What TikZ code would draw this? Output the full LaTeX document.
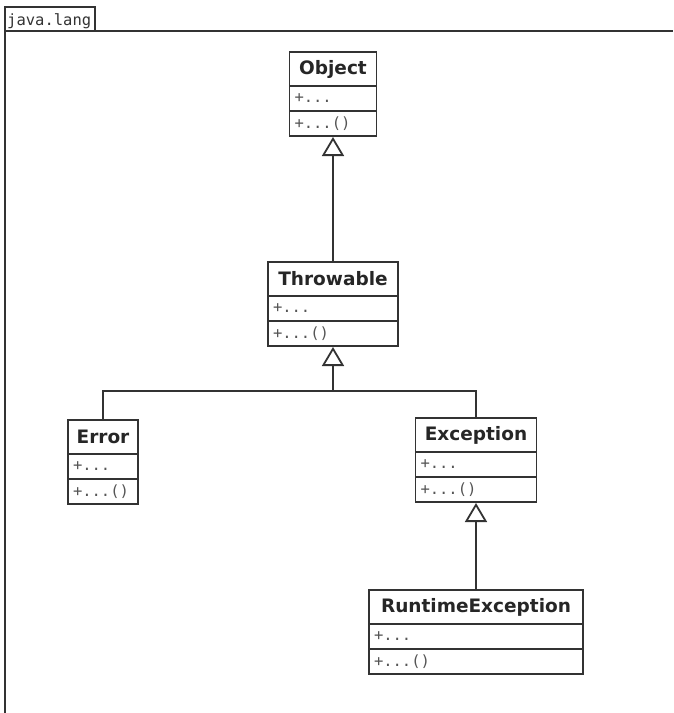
\documentclass[tikz,border=0pt]{standalone}
\usepackage{fontspec}
\setmainfont{DejaVu Sans}
\newfontfamily\monof{DejaVu Sans Mono}
\usetikzlibrary{arrows.meta}
\definecolor{linec}{HTML}{333333}
\definecolor{memc}{HTML}{555555}
\newcommand\umlclass[5]{%
  \pgfmathsetmacro\umltw{#4-10}%
  \node[clstitle, minimum width=#4] (#1) at (#2,#3+17) {#5};
  \node[clsmember, text width=\umltw pt, anchor=north] (#1-a) at (#1.south) {+...};
  \node[clsmember, text width=\umltw pt, anchor=north] (#1-m) at (#1-a.south) {+...()};
}
\tikzset{
  clstitle/.style={draw=linec, line width=1.8pt, outer sep=0pt, minimum height=34pt, inner sep=0pt,
    text=black!85, font=\bfseries\fontsize{18.5}{20}\selectfont},
  clsmember/.style={draw=linec, line width=1.8pt, outer sep=0pt, minimum height=25pt, inner xsep=5pt, inner ysep=0pt,
    align=left, text=memc, font=\monof\fontsize{15.5}{17}\selectfont},
  inh/.style={draw=linec, line width=1.8pt, -{Triangle[open,length=19pt,width=22pt]}},
  pkg/.style={draw=linec, line width=1.8pt}
}
\begin{document}
\begin{tikzpicture}[x=1pt,y=-1pt]
\useasboundingbox (0,0) rectangle (673,713);
\fill[white] (0,0) rectangle (673,713);
% package frame
\draw[pkg] (5,31) -- (5,7) -- (95,7) -- (95,31);
\draw[pkg] (5,713) -- (5,31) -- (673,31);
\node[anchor=base west, inner sep=0pt, text=linec, font=\monof\fontsize{15.5}{17}\selectfont] (pkgname) at (7,25) {java.lang};
% classes
\umlclass{obj}{333}{52}{87}{Object}
\umlclass{thr}{333}{262}{130}{Throwable}
\umlclass{err}{103}{420}{70}{Error}
\umlclass{exc}{476}{418}{121}{Exception}
\umlclass{rte}{476}{590}{214}{RuntimeException}
% connectors
\coordinate (j) at (333,391);
\draw[inh] (thr.north) -- ([yshift=-1pt]obj-m.south);
\draw[inh] (err.north) |- (j) -- ([yshift=-1pt]thr-m.south);
\draw[pkg] (exc.north) |- (j);
\draw[inh] (rte.north) -- ([yshift=-1pt]exc-m.south);
\end{tikzpicture}
\end{document}
